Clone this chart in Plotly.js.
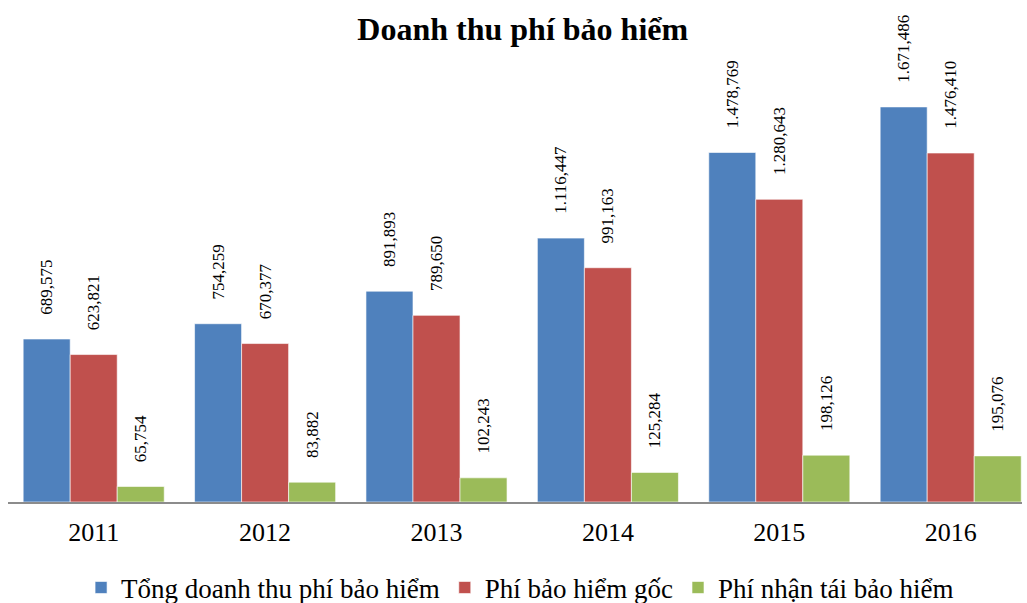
<!DOCTYPE html>
<html>
<head>
<meta charset="utf-8">
<script src="https://cdn.plot.ly/plotly-3.0.1.min.js"></script>
<style>html,body{margin:0;padding:0;background:#fff}#chart{width:1027px;height:603px}</style>
</head>
<body>
<div id="chart"></div>
<script>
var years = ['2011', '2012', '2013', '2014', '2015', '2016'];
var totalRevenue = [689575, 754259, 891893, 1116447, 1478769, 1671486];
var directPremium = [623821, 670377, 789650, 991163, 1280643, 1476410];
var reinsurancePremium = [65754, 83882, 102243, 125284, 198126, 195076];
var totalLabels = ['689,575', '754,259', '891,893', '1.116,447', '1.478,769', '1.671,486'];
var directLabels = ['623,821', '670,377', '789,650', '991,163', '1.280,643', '1.476,410'];
var reinsLabels = ['65,754', '83,882', '102,243', '125,284', '198,126', '195,076'];
var seriesNames = ['Tổng doanh thu phí bảo hiểm', 'Phí bảo hiểm gốc', 'Phí nhận tái bảo hiểm'];
var colors = ['#4F81BD', '#C0504D', '#9BBB59'];

var SERIF = "'Liberation Serif', 'Times New Roman', serif";
var pad = '\u00A0\u00A0\u00A0\u00A0\u00A0';
function mk(vals, labels, name, color) {
  return {
    type: 'bar', x: years, y: vals, name: name,
    marker: {color: color, line: {color: 'rgba(255,255,255,0.6)', width: 1}},
    text: labels.map(function (t) { return pad + t; }),
    textposition: 'outside', textangle: -90, constraintext: 'none', cliponaxis: false,
    textfont: {family: SERIF, size: 17, color: '#000'},
    hoverinfo: 'x+y'
  };
}
var data = [
  mk(totalRevenue, totalLabels, seriesNames[0], colors[0]),
  mk(directPremium, directLabels, seriesNames[1], colors[1]),
  mk(reinsurancePremium, reinsLabels, seriesNames[2], colors[2])
];
var layout = {
  width: 1027, height: 603,
  margin: {l: 8, r: 5, t: 60, b: 101, autoexpand: false},
  paper_bgcolor: '#fff', plot_bgcolor: '#fff',
  font: {family: SERIF, color: '#000'},
  title: {text: '<b>Doanh thu phí bảo hiểm</b>', font: {size: 32, family: SERIF, color: '#000'}, x: 0.509, xanchor: 'center', y: 0.953, yanchor: 'middle'},
  barmode: 'group', bargap: 0.177, bargroupgap: 0,
  xaxis: {type: 'category', range: [-0.5, 5.416], showline: true, linecolor: '#8c8c8c', linewidth: 2, ticks: '', showgrid: false, zeroline: false,
          tickfont: {size: 26, family: SERIF, color: '#000'}, ticklabelstandoff: 6},
  yaxis: {range: [0, 1870000], visible: false, showgrid: false, zeroline: false},
  showlegend: true,
  legend: {orientation: 'h', x: 0.505, xanchor: 'center', yref: 'container', y: 0.025, yanchor: 'middle',
           itemwidth: 30, font: {size: 27, family: SERIF, color: '#000'}}
};
Plotly.newPlot('chart', data, layout, {displayModeBar: false});
</script>
</body>
</html>
